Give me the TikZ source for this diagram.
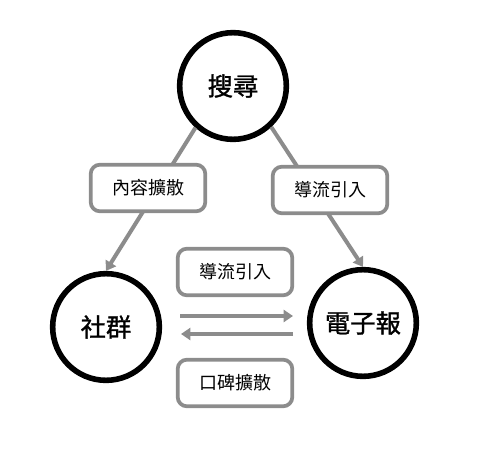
\documentclass[tikz,border=0pt]{standalone}
\usepackage{fontspec}
\newfontfamily\cjk{Noto Sans CJK TC}
\newfontfamily\cjkheavy[FakeBold=1.2]{Noto Sans CJK TC}
\usetikzlibrary{arrows.meta}

\begin{document}
\begin{tikzpicture}[x=0.75pt,y=-0.75pt]
\useasboundingbox (0,0) rectangle (479,450);
\begin{scope}[every node/.style={circle,line width=4.2pt,draw,minimum size=80pt,font=\cjkheavy\fontsize{19pt}{22pt}\selectfont}]
    \node (S) at (233,86) {搜尋};
    \node (L) at (106,327) {社群};
    \node (E) at (363,323) {電子報};
\end{scope}

\coordinate (ra) at (180,316);
\coordinate (rb) at (293,316);
\coordinate (la) at (293,334);
\coordinate (lb) at (181,334);

\begin{scope}[>={Triangle[length=7pt,width=9pt]},
              every edge/.style={draw=gray!90, line width=3pt}]
    \path [->] (S.228) edge (L.north);
    \path [->] (S.-47) edge (E.north);
    \path [->] (ra) edge (rb);
    \path [->] (la) edge (lb);
\end{scope}

\begin{scope}[every node/.style={rectangle,rounded corners=7pt,draw=gray!90,line width=2.8pt,fill=white,
              minimum width=86pt,minimum height=35pt,font=\cjk\fontsize{13.5pt}{16pt}\selectfont}]
    \node (spread) at (148,188) {內容擴散};
    \node (guide) at (330,190) {導流引入};
    \node (guide2) at (235,272) {導流引入};
    \node (word) at (235,383) {口碑擴散};
\end{scope}
\end{tikzpicture}
\end{document}
